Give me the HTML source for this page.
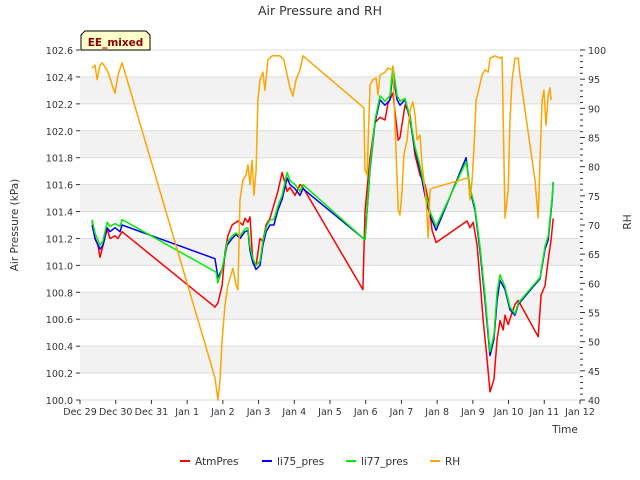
<!DOCTYPE html>
<html><head><meta charset="utf-8"><style>
body{margin:0;background:#fff}
svg{display:block;font-family:"DejaVu Sans","Liberation Sans",sans-serif}
</style></head><body>
<svg id="chart" width="640" height="480" viewBox="0 0 640 480">
<g id="bands"></g>
<g id="grid"></g>
<g id="axes"></g>
<g id="series"></g>
<text x="320" y="15" text-anchor="middle" font-size="12.5" fill="#333">Air Pressure and RH</text>
<text transform="translate(18,225) rotate(-90)" text-anchor="middle" font-size="10.5" fill="#333">Air Pressure (kPa)</text>
<text transform="translate(631,222) rotate(-90)" text-anchor="middle" font-size="10.5" fill="#333">RH</text>
<text x="565" y="433" text-anchor="middle" font-size="10.5" fill="#333">Time</text>
<g>
<path d="M81,50 L81,35 L85,31 L146,31 L150,35 L150,50 Z" fill="#ffffcc" stroke="#000" stroke-width="1"/>
<text x="115.5" y="46" text-anchor="middle" font-size="10.5" font-weight="bold" fill="#8b0000">EE_mixed</text>
</g>
<g id="legend"></g>
</svg>
<script>
const xTickLabels=["Dec 29","Dec 30","Dec 31","Jan 1","Jan 2","Jan 3","Jan 4","Jan 5","Jan 6","Jan 7","Jan 8","Jan 9","Jan 10","Jan 11","Jan 12"];
const yTicks=[100.0,100.2,100.4,100.6,100.8,101.0,101.2,101.4,101.6,101.8,102.0,102.2,102.4,102.6];
const rhTicks=[40,45,50,55,60,65,70,75,80,85,90,95,100];
const atmDays=[0.34,0.42,0.50,0.56,0.62,0.76,0.84,0.98,1.06,1.18,3.78,3.86,3.98,4.06,4.14,4.26,4.42,4.56,4.62,4.70,4.76,4.84,4.93,5.04,5.12,5.21,5.32,5.43,5.54,5.66,5.80,5.88,6.02,6.16,6.24,7.92,7.98,8.12,8.26,8.40,8.54,8.62,8.76,8.91,8.96,9.10,9.24,9.38,9.52,9.66,9.75,9.86,9.97,10.84,10.92,11.01,11.12,11.20,11.29,11.40,11.48,11.59,11.68,11.76,11.85,11.90,11.99,12.10,12.18,12.27,12.83,12.91,13.02,13.11,13.19,13.25];
const atmVals=[101.33,101.20,101.15,101.06,101.12,101.27,101.20,101.22,101.20,101.25,100.69,100.72,100.85,101.10,101.22,101.30,101.33,101.30,101.35,101.32,101.36,101.02,101.00,101.20,101.18,101.30,101.35,101.45,101.55,101.69,101.55,101.58,101.52,101.60,101.58,100.82,101.40,101.80,102.06,102.10,102.08,102.20,102.28,101.93,101.95,102.19,102.12,101.82,101.67,101.60,101.49,101.26,101.17,101.33,101.28,101.32,101.15,100.89,100.59,100.30,100.06,100.15,100.45,100.59,100.52,100.63,100.56,100.65,100.71,100.74,100.47,100.78,100.85,101.04,101.19,101.35];
const li75Days=[0.34,0.42,0.56,0.64,0.76,0.84,0.98,1.12,1.18,3.78,3.86,3.98,4.12,4.26,4.37,4.48,4.62,4.70,4.76,4.84,4.93,5.04,5.12,5.21,5.32,5.43,5.54,5.66,5.80,5.88,6.02,6.16,6.24,7.98,8.12,8.26,8.40,8.54,8.68,8.76,8.88,8.96,9.10,9.24,9.38,9.52,9.66,9.80,9.97,10.81,10.92,11.06,11.20,11.34,11.48,11.59,11.68,11.76,11.90,12.04,12.18,12.27,12.88,13.02,13.11,13.22,13.25];
const li75Vals=[101.30,101.20,101.12,101.15,101.28,101.25,101.28,101.25,101.30,101.05,100.91,100.97,101.15,101.20,101.23,101.20,101.25,101.26,101.11,101.02,100.97,101.00,101.15,101.25,101.30,101.30,101.41,101.49,101.65,101.60,101.57,101.52,101.57,101.19,101.71,102.06,102.23,102.19,102.23,102.44,102.23,102.19,102.23,102.08,101.86,101.71,101.52,101.37,101.26,101.80,101.56,101.41,101.11,100.74,100.33,100.45,100.74,100.89,100.82,100.67,100.63,100.71,100.90,101.12,101.19,101.48,101.62];
const li77Days=[0.34,0.42,0.56,0.64,0.76,0.84,0.98,1.12,1.18,3.81,3.86,3.98,4.12,4.26,4.37,4.48,4.62,4.70,4.76,4.84,4.93,5.04,5.12,5.21,5.32,5.43,5.54,5.66,5.80,5.88,6.02,6.16,6.24,7.98,8.12,8.26,8.40,8.54,8.68,8.76,8.88,8.96,9.10,9.24,9.38,9.52,9.66,9.80,9.97,10.81,10.92,11.06,11.20,11.34,11.48,11.59,11.68,11.76,11.90,12.04,12.18,12.27,12.88,13.02,13.11,13.22,13.25];
const li77Vals=[101.34,101.24,101.15,101.18,101.32,101.29,101.31,101.29,101.34,100.95,100.87,100.97,101.17,101.22,101.24,101.22,101.27,101.28,101.14,101.05,101.00,101.03,101.18,101.28,101.34,101.34,101.44,101.52,101.69,101.63,101.60,101.55,101.60,101.19,101.73,102.08,102.26,102.22,102.26,102.48,102.26,102.22,102.24,102.10,101.88,101.74,101.56,101.40,101.29,101.77,101.58,101.43,101.14,100.78,100.36,100.48,100.80,100.93,100.84,100.69,100.64,100.72,100.91,101.14,101.22,101.50,101.62];
const rhDays=[0.34,0.42,0.48,0.56,0.62,0.76,0.84,0.90,0.98,1.06,1.18,3.78,3.86,3.92,3.98,4.06,4.14,4.20,4.28,4.37,4.42,4.48,4.56,4.65,4.70,4.76,4.82,4.87,4.93,4.98,5.04,5.12,5.18,5.26,5.38,5.60,5.71,5.88,5.96,6.05,6.16,6.24,7.95,7.98,8.04,8.12,8.20,8.29,8.34,8.40,8.54,8.62,8.74,8.76,8.91,8.96,9.02,9.07,9.16,9.24,9.32,9.38,9.44,9.52,9.58,9.63,9.69,9.75,9.80,9.86,10.87,10.92,10.98,11.03,11.09,11.15,11.26,11.34,11.43,11.48,11.62,11.76,11.82,11.90,11.99,12.04,12.10,12.18,12.27,12.32,12.74,12.83,12.88,12.94,12.99,13.05,13.11,13.16,13.19];
const rhVals=[96.9,97.4,94.9,97.4,97.8,96.6,95.2,94.0,92.6,95.7,97.8,43.8,40.0,43.4,50.3,56.3,59.7,60.9,62.6,59.7,58.9,74.3,77.7,78.6,80.3,76.9,81.1,75.1,79.4,91.4,94.9,96.2,93.1,98.3,99.0,99.0,98.3,93.5,92.1,94.9,96.6,99.0,90.1,79.4,78.6,94.0,94.9,95.2,92.3,95.7,96.2,96.9,96.6,97.1,72.6,71.7,76.0,82.0,84.6,89.7,91.1,88.9,84.6,85.4,80.3,77.7,74.3,67.8,76.0,76.3,78.1,74.3,77.7,82.9,91.4,92.8,95.7,96.6,96.2,98.6,99.0,98.6,98.8,71.2,76.0,88.0,94.9,98.6,98.6,95.7,77.7,71.2,81.1,91.4,93.1,87.1,92.3,93.5,91.4];

const NS="http://www.w3.org/2000/svg";
const L=80,R=580,T=50,B=400;
const xS=d=>L+(R-L)*d/14;
const yS=v=>B-(B-T)*(v-100)/2.6;
const rS=v=>B-(B-T)*(v-40)/60;
function mk(tag,attrs,parent){const e=document.createElementNS(NS,tag);for(const k in attrs)e.setAttribute(k,attrs[k]);parent.appendChild(e);return e;}
const bands=document.getElementById('bands'),grid=document.getElementById('grid'),axes=document.getElementById('axes'),series=document.getElementById('series'),legend=document.getElementById('legend');
for(let i=0;i<yTicks.length-1;i++){
  if(i%2===1){const b=mk('rect',{x:L,y:yS(yTicks[i+1]),width:R-L,height:yS(yTicks[i])-yS(yTicks[i+1]),fill:'#f2f2f2'},bands);
  
  }
}
yTicks.forEach(v=>{
  const y=yS(v);
  const g=mk('line',{x1:L,x2:R,y1:y,y2:y,stroke:'#dcdcdc','stroke-width':1},grid);
  
  
  mk('line',{x1:L-4,x2:L,y1:y,y2:y,stroke:'#333'},axes);
  const t=mk('text',{x:L-7,y:y+4,'text-anchor':'end','font-size':9.5,fill:'#333'},axes);
  t.textContent=v.toFixed(1);
  
  
});
for(let v=40;v<=100;v++){
  const y=rS(v);
  mk('line',{x1:R,x2:R+(v%5===0?5:3),y1:y,y2:y,stroke:'#333'},axes);
}
rhTicks.forEach(v=>{
  const t=mk('text',{x:R+8,y:rS(v)+4,'font-size':9.5,fill:'#333'},axes);
  t.textContent=v;
  
  
});
xTickLabels.forEach((s,i)=>{
  const x=xS(i);
  mk('line',{x1:x,x2:x,y1:B,y2:B+4,stroke:'#333'},axes);
  const t=mk('text',{x:x,y:B+15,'text-anchor':'middle','font-size':9.5,fill:'#333'},axes);
  t.textContent=s;
  
  
});
function line(days,vals,sc,color,name){
  const p=mk('polyline',{points:days.map((d,i)=>xS(d).toFixed(1)+','+sc(vals[i]).toFixed(1)).join(' '),fill:'none',stroke:color,'stroke-width':1.5,'stroke-linejoin':'round'},series);
  
  
}
line(atmDays,atmVals,yS,'#ff0000','atmpres-line');
line(li75Days,li75Vals,yS,'#0000ff','li75-pres-line');
line(li77Days,li77Vals,yS,'#00ee00','li77-pres-line');
line(rhDays,rhVals,rS,'#ffa500','rh-line');
const leg=[['AtmPres','#ff0000',180],['li75_pres','#0000ff',262],['li77_pres','#00ee00',346],['RH','#ffa500',430]];
leg.forEach(([n,c,x])=>{
  const g=mk('g',{},legend);
  
  
  mk('line',{x1:x,x2:x+10,y1:461,y2:461,stroke:c,'stroke-width':2},g);
  const t=mk('text',{x:x+15,y:465,'font-size':10.5,fill:'#333'},g);
  t.textContent=n;
});
</script>
</body></html>
